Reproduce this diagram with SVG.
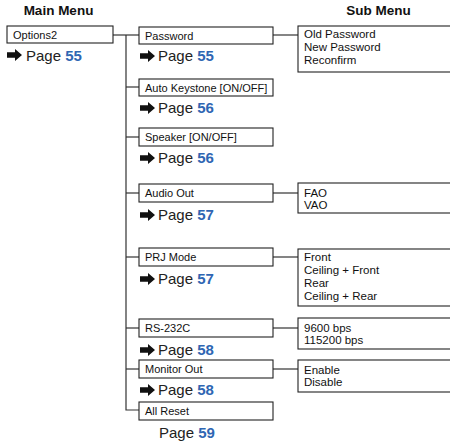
<svg xmlns="http://www.w3.org/2000/svg" width="450" height="444" viewBox="0 0 450 444">
<style>
.bg{fill:#fff}
.box{fill:#fff;stroke:#222;stroke-width:1.1}
.ln{fill:none;stroke:#333;stroke-width:1.2}
.title{font-family:"Liberation Sans",Arial,sans-serif;font-weight:bold;font-size:13.5px;fill:#111;text-anchor:middle}
.lbl{font-family:"Liberation Sans",Arial,sans-serif;font-size:11px;fill:#111}
.sub{font-family:"Liberation Sans",Arial,sans-serif;font-size:11.5px;fill:#111}
.pg{font-family:"Liberation Sans",Arial,sans-serif;font-size:15px;fill:#222}
.num{font-weight:bold;fill:#2f66b3}
.arr{fill:#111}
</style>
<defs>
<path id="ar" d="M0,-2.8 H8 V-6 L15,0 L8,6 V2.8 H0 Z"/>
</defs>
<rect class="bg" width="450" height="444"/>
<text class="title" x="58.5" y="15">Main Menu</text>
<text class="title" x="378.5" y="15">Sub Menu</text>
<g id="connectors">
<path class="ln" d="M113,35 H139"/>
<path class="ln" d="M126,35 V410 H139"/>
<path class="ln" d="M126,87 H139"/>
<path class="ln" d="M126,137 H139"/>
<path class="ln" d="M126,193 H139"/>
<path class="ln" d="M126,257 H139"/>
<path class="ln" d="M126,328 H139"/>
<path class="ln" d="M126,369 H139"/>
<path class="ln" d="M273,35 H298"/>
<path class="ln" d="M273,193 H298"/>
<path class="ln" d="M273,257 H298"/>
<path class="ln" d="M273,328 H298"/>
<path class="ln" d="M273,369 H298"/>
</g>
<g id="options2">
<rect class="box" x="7" y="26" width="106" height="17"/>
<text class="lbl" x="13" y="38.5">Options2</text>
<use href="#ar" class="arr" x="7" y="55"/>
<text class="pg" x="26" y="60.5">Page <tspan class="num">55</tspan></text>
</g>
<g id="password">
<rect class="box" x="139" y="27" width="134" height="17"/>
<text class="lbl" x="145" y="39.5">Password</text>
<use href="#ar" class="arr" x="140" y="56"/>
<text class="pg" x="158" y="61">Page <tspan class="num">55</tspan></text>
</g>
<g id="auto-keystone">
<rect class="box" x="139" y="79" width="134" height="17"/>
<text class="lbl" x="145" y="91.5">Auto Keystone [ON/OFF]</text>
<use href="#ar" class="arr" x="140" y="108"/>
<text class="pg" x="158" y="113">Page <tspan class="num">56</tspan></text>
</g>
<g id="speaker">
<rect class="box" x="139" y="128" width="134" height="18"/>
<text class="lbl" x="145" y="141">Speaker [ON/OFF]</text>
<use href="#ar" class="arr" x="140" y="158"/>
<text class="pg" x="158" y="163">Page <tspan class="num">56</tspan></text>
</g>
<g id="audio-out">
<rect class="box" x="139" y="184" width="134" height="18"/>
<text class="lbl" x="145" y="197">Audio Out</text>
<use href="#ar" class="arr" x="140" y="215"/>
<text class="pg" x="158" y="220">Page <tspan class="num">57</tspan></text>
</g>
<g id="prj-mode">
<rect class="box" x="139" y="248" width="134" height="18"/>
<text class="lbl" x="145" y="261">PRJ Mode</text>
<use href="#ar" class="arr" x="140" y="279"/>
<text class="pg" x="158" y="284">Page <tspan class="num">57</tspan></text>
</g>
<g id="rs232c">
<rect class="box" x="139" y="319" width="134" height="18"/>
<text class="lbl" x="145" y="332">RS-232C</text>
<use href="#ar" class="arr" x="140" y="350"/>
<text class="pg" x="158" y="355">Page <tspan class="num">58</tspan></text>
</g>
<g id="monitor-out">
<rect class="box" x="139" y="360" width="134" height="18"/>
<text class="lbl" x="145" y="373">Monitor Out</text>
<use href="#ar" class="arr" x="140" y="390"/>
<text class="pg" x="158" y="395">Page <tspan class="num">58</tspan></text>
</g>
<g id="all-reset">
<rect class="box" x="139" y="402" width="134" height="18"/>
<text class="lbl" x="145" y="415">All Reset</text>
<text class="pg" x="159" y="438">Page <tspan class="num">59</tspan></text>
</g>
<g id="sub-password">
<rect class="box" x="298" y="26" width="160" height="46"/>
<text class="sub" x="304" y="38">Old Password</text>
<text class="sub" x="304" y="51">New Password</text>
<text class="sub" x="304" y="64">Reconfirm</text>
</g>
<g id="sub-audio">
<rect class="box" x="298" y="183" width="160" height="30"/>
<text class="sub" x="304" y="197">FAO</text>
<text class="sub" x="304" y="209">VAO</text>
</g>
<g id="sub-prj">
<rect class="box" x="298" y="249" width="160" height="57"/>
<text class="sub" x="304" y="261">Front</text>
<text class="sub" x="304" y="274">Ceiling + Front</text>
<text class="sub" x="304" y="287">Rear</text>
<text class="sub" x="304" y="300">Ceiling + Rear</text>
</g>
<g id="sub-rs232c">
<rect class="box" x="298" y="318" width="160" height="31"/>
<text class="sub" x="304" y="332">9600 bps</text>
<text class="sub" x="304" y="344">115200 bps</text>
</g>
<g id="sub-monitor">
<rect class="box" x="298" y="360" width="160" height="32"/>
<text class="sub" x="304" y="374">Enable</text>
<text class="sub" x="304" y="386">Disable</text>
</g>
</svg>
